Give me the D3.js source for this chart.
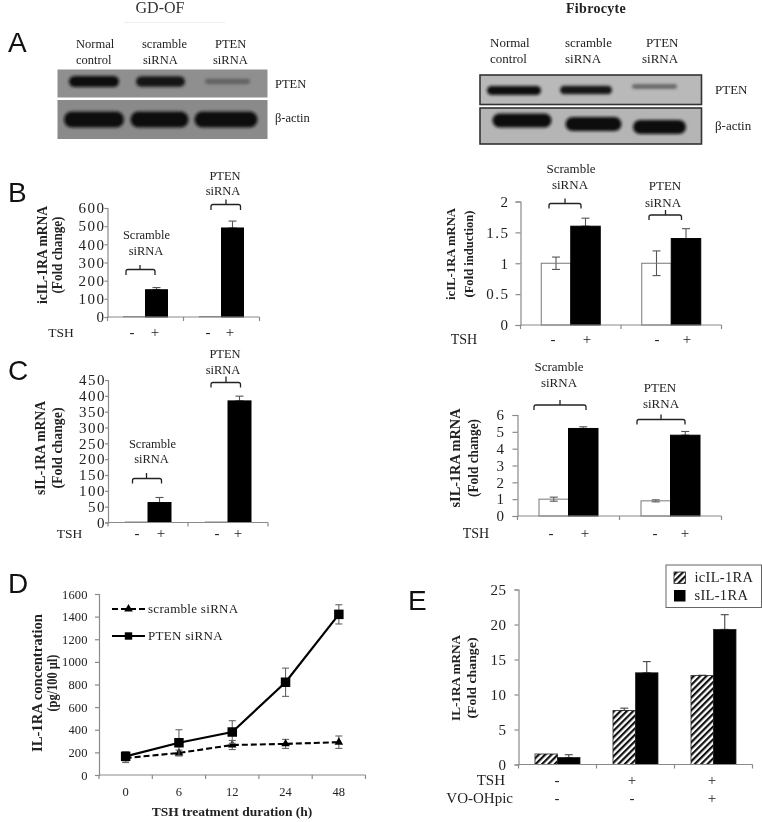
<!DOCTYPE html>
<html>
<head>
<meta charset="utf-8">
<script src="https://cdnjs.cloudflare.com/ajax/libs/d3/7.8.5/d3.min.js"></script>
<style>
	html, body { margin: 0; padding: 0; background: #fff; }
	svg { display: block; filter: blur(0.4px); }
	text { font-family: "Liberation Serif", serif; fill: #222; }
</style>
</head>
<body>
<svg></svg>
<script>
// values
var lanes = ['Normal control', 'scramble siRNA', 'PTEN siRNA'];
var odPten = [1, 0.95, 0.45];
var odActin = [1, 1, 1];
var fibPten = [1, 0.95, 0.45];
var fibActin = [1, 1, 1];

var groups = ['Scramble siRNA', 'PTEN siRNA'];
var tsh = ['-', '+'];

var bLeftTicks = [0, 100, 200, 300, 400, 500, 600];
var bLeftValues = [2, 150, 3, 490];
var bLeftErrors = [0, 12, 0, 38];

var bRightTicks = [0, 0.5, 1, 1.5, 2];
var bRightValues = [1, 1.6, 1, 1.4];
var bRightErrors = [0.1, 0.13, 0.2, 0.16];

var cLeftTicks = [0, 50, 100, 150, 200, 250, 300, 350, 400, 450];
var cLeftValues = [2, 63, 2, 384];
var cLeftErrors = [0, 16, 0, 15];

var cRightTicks = [0, 1, 2, 3, 4, 5, 6];
var cRightValues = [1, 5.2, 0.9, 4.8];
var cRightErrors = [0.12, 0.1, 0.06, 0.22];

var hours = ['0', '6', '12', '24', '48'];
var dTicks = [0, 200, 400, 600, 800, 1000, 1200, 1400, 1600];
var scrambleValues = [150, 195, 265, 275, 290];
var scrambleErrors = [40, 25, 40, 40, 55];
var ptenValues = [165, 285, 380, 820, 1420];
var ptenErrors = [40, 115, 100, 125, 85];

var eGroups = ['none', 'TSH', 'TSH + VO-OHpic'];
var eTicks = [0, 5, 10, 15, 20, 25];
var icValues = [1.5, 7.7, 12.7];
var icErrors = [0, 0.35, 0.05];
var sValues = [1, 13.1, 19.3];
var sErrors = [0.4, 1.6, 2.1];
var eTsh = ['-', '+', '+'];
var eVo = ['-', '-', '+'];

var unit = {width: 762, height: 822};
var svg = d3.select('svg').attr('width', unit.width).attr('height', unit.height);

var defs = svg.append('defs');
defs.append('filter').attr('id', 'soft')
	.attr('x', '-20%').attr('y', '-60%').attr('width', '140%').attr('height', '220%')
	.append('feGaussianBlur').attr('stdDeviation', 1.6);
var hatch = defs.append('pattern').attr('id', 'hatch')
	.attr('width', 4.5).attr('height', 4.5)
	.attr('patternUnits', 'userSpaceOnUse')
	.attr('patternTransform', 'rotate(45)');
hatch.append('rect').attr('width', 4.5).attr('height', 4.5).attr('fill', '#fff');
hatch.append('rect').attr('width', 2.2).attr('height', 4.5).attr('fill', '#111');

function label(x, y, str, o){
	o = o || {};
	return svg.append('text')
		.attr('x', x).attr('y', y)
		.attr('text-anchor', o.anchor || 'middle')
		.attr('font-size', o.size || 13)
		.attr('font-weight', o.weight || 'normal')
		.style('letter-spacing', o.spacing || null)
		.style('font-family', o.family || null)
		.style('fill', o.fill || null)
		.text(str);
}

function panelLetter(x, y, str){
	label(x, y, str, {anchor: 'start', size: 28, family: '"Liberation Sans", sans-serif', fill: '#111'});
}

// the titles are stretched in the source so each line gets its measured length
function yTitle(x1, x2, yc, line1, line2, size, len1, len2){
	[[x1, line1, len1], [x2, line2, len2]].forEach(function(d){
		svg.append('text')
			.attr('transform', 'translate(' + d[0] + ',' + yc + ') rotate(-90)')
			.attr('text-anchor', 'middle')
			.attr('font-size', size)
			.attr('font-weight', 'bold')
			.attr('textLength', d[2])
			.attr('lengthAdjust', 'spacingAndGlyphs')
			.text(d[1]);
	});
}

function bracket(x1, x2, xm, yTop, yEnd, yTick){
	svg.append('path')
		.attr('d', 'M' + x1 + ',' + yEnd + 'V' + (yTop + 2) + 'Q' + x1 + ',' + yTop + ' ' + (x1 + 2) + ',' + yTop +
			'H' + (x2 - 2) + 'Q' + x2 + ',' + yTop + ' ' + x2 + ',' + (yTop + 2) + 'V' + yEnd +
			'M' + xm + ',' + yTop + 'V' + yTick)
		.attr('fill', 'none').attr('stroke', '#222').attr('stroke-width', 1.3);
}

function leftAxis(x, y, ticks, size, spacing, tickLen, pad){
	var g = svg.append('g')
		.attr('transform', 'translate(' + x + ',0)')
		.call(d3.axisLeft(y).tickValues(ticks).tickSize(tickLen).tickPadding(pad).tickFormat(d3.format('~g')));
	g.selectAll('.domain, line').attr('stroke', '#8a8a8a').attr('stroke-width', 1.2);
	g.selectAll('text').attr('font-size', size).attr('font-family', '"Liberation Serif", serif')
		.attr('fill', '#222').style('letter-spacing', spacing);
}

function bottomTicks(band, y){
	var edges = band.domain().map(function(d){ return band(d); }).concat(band.range()[1]);
	var g = svg.append('g').attr('stroke', '#8a8a8a').attr('stroke-width', 1.2);
	g.append('line').attr('x1', band.range()[0]).attr('x2', band.range()[1]).attr('y1', y).attr('y2', y);
	g.selectAll('.edge').data(edges).enter().append('line').classed('edge', true)
		.attr('x1', function(d){ return d; }).attr('x2', function(d){ return d; })
		.attr('y1', y).attr('y2', y + 4);
}

function errorBars(sel, x, yUp, yDown, cap, colour){
	var g = sel.append('g').attr('stroke', colour).attr('stroke-width', 1.1);
	g.append('line').attr('x1', x).attr('x2', x).attr('y1', yUp).attr('y2', yDown);
	g.append('line').attr('x1', x - cap).attr('x2', x + cap).attr('y1', yUp).attr('y2', yUp);
	g.append('line').attr('x1', x - cap).attr('x2', x + cap).attr('y1', yDown).attr('y2', yDown);
}

// panels B and C share this: two siRNA groups with a -/+ TSH pair in each
function pairPanel(c){
	var y = d3.scaleLinear().domain([0, c.ticks[c.ticks.length - 1]]).range([c.y0, c.yTop]);
	var gx = d3.scaleBand().domain(groups).range([c.x0, c.x1]);
	var rows = [];
	groups.forEach(function(g, i){
		tsh.forEach(function(t, j){
			rows.push({group: g, sign: t, value: c.values[i * 2 + j], error: c.errors[i * 2 + j]});
		});
	});
	var marks = svg.append('g');
	rows.forEach(function(d){
		var mid = gx(d.group) + gx.bandwidth() / 2;
		var inner = d3.scaleBand().domain(tsh).range([mid - c.barW, mid + c.barW]);
		var x = inner(d.sign), isBlack = d.sign === '+';
		var xc = x + inner.bandwidth() / 2;
		if(d.error) errorBars(marks, xc, y(d.value + d.error), isBlack ? y(d.value) : y(d.value - d.error), c.cap, '#555');
		marks.append('rect')
			.attr('x', x).attr('y', y(d.value))
			.attr('width', inner.bandwidth()).attr('height', y(0) - y(d.value))
			.attr('fill', isBlack ? '#000' : (c.open ? 'none' : '#777'))
			.attr('stroke', isBlack ? '#000' : '#777')
			.attr('stroke-width', isBlack || c.open ? 1 : 0.5);
	});
	leftAxis(c.x0, y, c.ticks, c.fontSize, c.spacing, c.tickLen, c.pad);
	bottomTicks(gx, c.y0);
	tsh.concat(tsh).forEach(function(s, i){
		label(c.signX[i], c.signY, s, {size: 15});
	});
	label(c.tshX, c.signY, 'TSH', {size: c.tshSize});
}

// panel A blots, band thickness and darkness follow the density arrays
function blotBox(x1, x2, y1, y2, fill, border){
	svg.append('rect').attr('x', x1).attr('y', y1).attr('width', x2 - x1).attr('height', y2 - y1)
		.attr('fill', fill).attr('stroke', border).attr('stroke-width', border === 'none' ? 0 : 1.6);
}
function blotBands(centers, yc, width, thick, density, slope){
	var thickness = d3.scaleLinear().domain([0, 1]).range([1, thick]);
	var grey = d3.scaleLinear().domain([0, 1]).range(['#a8a8a8', '#111']);
	svg.append('g').attr('filter', 'url(#soft)').selectAll('rect')
		.data(lanes).enter().append('rect')
		.attr('x', function(d, i){ return centers[i] - width[i] / 2; })
		.attr('y', function(d, i){ return yc + (slope ? slope[i] : 0) - thickness(density[i]) / 2; })
		.attr('width', function(d, i){ return width[i]; })
		.attr('height', function(d, i){ return thickness(density[i]); })
		.attr('rx', function(d, i){ return thickness(density[i]) / 2; })
		.attr('fill', function(d, i){ return grey(density[i]); });
}

panelLetter(8, 52, 'A');
label(160, 13, 'GD-OF', {size: 16, fill: '#333'});
svg.append('line').attr('x1', 124).attr('x2', 225).attr('y1', 22.5).attr('y2', 22.5).attr('stroke', '#eee');
label(596, 13, 'Fibrocyte', {size: 14, weight: 'bold', spacing: '0.3px'});

[[76, 48, 'Normal'], [76, 64, 'control'], [142, 48, 'scramble'], [143, 64, 'siRNA'], [215, 48, 'PTEN'], [213, 64, 'siRNA'],
 [275, 88, 'PTEN'], [275, 122, 'β-actin']].forEach(function(d){
	label(d[0], d[1], d[2], {anchor: 'start', size: 12.5});
});
[[490, 47, 'Normal'], [490, 63, 'control'], [565, 47, 'scramble'], [565, 63, 'siRNA'], [646, 47, 'PTEN'], [642, 63, 'siRNA'],
 [715, 94, 'PTEN'], [715, 130, 'β-actin']].forEach(function(d){
	label(d[0], d[1], d[2], {anchor: 'start', size: 13});
});

blotBox(57.5, 267.5, 69.5, 97.5, '#8f8f8f', 'none');
blotBox(57.5, 267.5, 100, 139, '#8a8a8a', 'none');
blotBands([94, 160.5, 227.5], 81.5, [50, 49, 45], 11, odPten);
blotBands([94, 159.5, 226], 119.5, [60, 58, 63], 16, odActin);

blotBox(480, 701.5, 75, 104.5, '#b9b9b9', '#333');
blotBox(480, 701.5, 108, 144, '#b5b5b5', '#333');
blotBands([514, 586, 654.5], 90.5, [54, 52, 45], 9, fibPten, [0, -0.5, -4]);
blotBands([522, 593.5, 659.5], 120.5, [59, 56, 53], 14, fibActin, [0, 3.5, 6.5]);

// panel B
panelLetter(8, 202, 'B');
pairPanel({x0: 107.5, x1: 259.5, y0: 317, yTop: 208, ticks: bLeftTicks, values: bLeftValues, errors: bLeftErrors,
	barW: 22, cap: 4, open: false, fontSize: 15, spacing: '1.5px', tickLen: 3, pad: -1,
	signX: [132, 155, 208, 230], signY: 337, tshX: 61, tshSize: 13.5});
yTitle(47, 62, 255, 'icIL-1RA mRNA', '(Fold change)', 14.5, 98, 77);
bracket(126, 155, 140, 269.5, 275, 265);
label(146.5, 239, 'Scramble', {size: 12.5});
label(146, 255, 'siRNA', {size: 12.5});
bracket(211, 240.5, 226, 204.5, 210, 199.5);
label(225, 179.5, 'PTEN', {size: 12.5});
label(223, 195, 'siRNA', {size: 12.5});

pairPanel({x0: 520.5, x1: 721.5, y0: 325, yTop: 201.5, ticks: bRightTicks, values: bRightValues, errors: bRightErrors,
	barW: 29.5, cap: 4, open: true, fontSize: 15, spacing: '1.5px', tickLen: 5, pad: 6,
	signX: [553, 587, 657, 687], signY: 344, tshX: 464, tshSize: 14});
yTitle(455, 473, 254, 'icIL-1RA mRNA', '(Fold induction)', 13.5, 92, 87);
bracket(549, 581, 565, 203.5, 208.5, 198.5);
label(571, 173, 'Scramble', {size: 13});
label(570, 189, 'siRNA', {size: 13});
bracket(649, 681.5, 665.5, 215, 220, 210);
label(665, 190, 'PTEN', {size: 13});
label(663, 206.5, 'siRNA', {size: 13});

// panel C
panelLetter(8, 380, 'C');
pairPanel({x0: 108, x1: 268, y0: 522.5, yTop: 380, ticks: cLeftTicks, values: cLeftValues, errors: cLeftErrors,
	barW: 23, cap: 4, open: false, fontSize: 15, spacing: '1.5px', tickLen: 3, pad: -1,
	signX: [137, 161, 217, 238], signY: 537.5, tshX: 69.5, tshSize: 13.5});
yTitle(45, 62, 448, 'sIL-1RA mRNA', '(Fold change)', 14.5, 94, 81);
bracket(132.5, 161.5, 146.5, 478.5, 483.5, 473);
label(152.5, 447.5, 'Scramble', {size: 12.5});
label(151.5, 463, 'siRNA', {size: 12.5});
bracket(211, 240.5, 226, 382.5, 387.5, 376.5);
label(225, 357.5, 'PTEN', {size: 12.5});
label(223, 374, 'siRNA', {size: 12.5});

pairPanel({x0: 517.5, x1: 721.5, y0: 516, yTop: 415, ticks: cRightTicks, values: cRightValues, errors: cRightErrors,
	barW: 29.5, cap: 4, open: true, fontSize: 15, spacing: '1.5px', tickLen: 5, pad: 7,
	signX: [551, 585, 655, 685], signY: 538, tshX: 476, tshSize: 14});
yTitle(460, 478, 458, 'sIL-1RA mRNA', '(Fold change)', 15, 99, 78);
bracket(534, 586, 560, 405, 410, 400);
label(559, 371, 'Scramble', {size: 13});
label(559, 387, 'siRNA', {size: 13});
bracket(637, 685, 661, 419.5, 424.5, 414.5);
label(660, 392, 'PTEN', {size: 13});
label(661, 407.5, 'siRNA', {size: 13});

// panel D
panelLetter(8, 593, 'D');
var dBand = d3.scaleBand().domain(hours).range([99, 365.5]);
var dY = d3.scaleLinear().domain([0, 1600]).range([775, 594]);
var dX = function(h){ return dBand(h) + dBand.bandwidth() / 2; };
leftAxis(99, dY, dTicks, 12.5, '0.1px', 4, 7.5);
bottomTicks(dBand, 775);
hours.forEach(function(h){ label(dX(h), 796, h, {size: 12.5}); });
label(232, 816, 'TSH treatment duration (h)', {size: 13.5, weight: 'bold'});
yTitle(41.5, 57, 683, 'IL-1RA concentration', '(pg/100 µl)', 14, 138, 57);

var lineGen = d3.line().x(function(d){ return dX(d.h); }).y(function(d){ return dY(d.v); });
function series(values, errors, dash, symbol, size, width){
	var rows = hours.map(function(h, i){ return {h: h, v: values[i], e: errors[i]}; });
	var g = svg.append('g');
	rows.forEach(function(d){
		errorBars(g, dX(d.h), dY(d.v + d.e), dY(d.v - d.e), 3.5, '#666');
	});
	g.append('path').datum(rows).attr('d', lineGen).attr('fill', 'none')
		.attr('stroke', '#000').attr('stroke-width', width).attr('stroke-dasharray', dash);
	g.selectAll('.mark').data(rows).enter().append('path').classed('mark', true)
		.attr('d', d3.symbol().type(symbol).size(size))
		.attr('transform', function(d){ return 'translate(' + dX(d.h) + ',' + dY(d.v) + ')'; })
		.attr('fill', '#000');
}
series(scrambleValues, scrambleErrors, '6,3', d3.symbolTriangle, 32, 2.1);
series(ptenValues, ptenErrors, null, d3.symbolSquare, 90, 2.2);

svg.append('line').attr('x1', 112).attr('x2', 145).attr('y1', 609).attr('y2', 609)
	.attr('stroke', '#000').attr('stroke-width', 2).attr('stroke-dasharray', '6,3');
svg.append('path').attr('d', d3.symbol().type(d3.symbolTriangle).size(32)).attr('transform', 'translate(128.5,609)');
label(148, 613, 'scramble siRNA', {anchor: 'start', size: 13, spacing: '0.3px'});
svg.append('line').attr('x1', 112).attr('x2', 145).attr('y1', 636).attr('y2', 636)
	.attr('stroke', '#000').attr('stroke-width', 2);
svg.append('path').attr('d', d3.symbol().type(d3.symbolSquare).size(55)).attr('transform', 'translate(128.5,636)');
label(148, 640, 'PTEN siRNA', {anchor: 'start', size: 13, spacing: '0.3px'});

// panel E
panelLetter(408, 610, 'E');
var eBand = d3.scaleBand().domain(eGroups).range([518.5, 752.5]);
var eY = d3.scaleLinear().domain([0, 25]).range([764.5, 589.5]);
eGroups.forEach(function(g, i){
	var mid = eBand(g) + eBand.bandwidth() / 2;
	var inner = d3.scaleBand().domain(['ic', 's']).range([mid - 22.5, mid + 22.5]);
	var pairs = [['ic', icValues[i], icErrors[i], 'url(#hatch)'], ['s', sValues[i], sErrors[i], '#000']];
	pairs.forEach(function(p){
		var xc = inner(p[0]) + inner.bandwidth() / 2;
		if(p[2]) errorBars(svg, xc, eY(p[1] + p[2]), eY(p[1]), 4, '#444');
		svg.append('rect').attr('x', inner(p[0])).attr('y', eY(p[1]))
			.attr('width', inner.bandwidth()).attr('height', eY(0) - eY(p[1]))
			.attr('fill', p[3]).attr('stroke', '#222').attr('stroke-width', 0.8);
	});
});
leftAxis(518.5, eY, eTicks, 15, '0.5px', 4, 8);
bottomTicks(eBand, 764.5);
yTitle(459.5, 476, 678, 'IL-1RA mRNA', '(Fold change)', 13, 86, 81);
label(505, 785, 'TSH', {anchor: 'end', size: 15});
label(513, 803, 'VO-OHpic', {anchor: 'end', size: 15});
[557, 632, 712].forEach(function(x, i){
	label(x, 785, eTsh[i], {size: 15});
	label(x, 803, eVo[i], {size: 15});
});
svg.append('rect').attr('x', 666).attr('y', 565).attr('width', 95.5).attr('height', 42.5)
	.attr('fill', '#fff').attr('stroke', '#666').attr('stroke-width', 1);
svg.append('rect').attr('x', 674).attr('y', 572).attr('width', 11.5).attr('height', 11.5)
	.attr('fill', 'url(#hatch)').attr('stroke', '#222').attr('stroke-width', 0.8);
svg.append('rect').attr('x', 674).attr('y', 590).attr('width', 11.5).attr('height', 11.5).attr('fill', '#000');
label(694.5, 582, 'icIL-1RA', {anchor: 'start', size: 14.5, spacing: '0.3px'});
label(694.5, 599.5, 'sIL-1RA', {anchor: 'start', size: 14.5, spacing: '0.3px'});
</script>
</body>
</html>
